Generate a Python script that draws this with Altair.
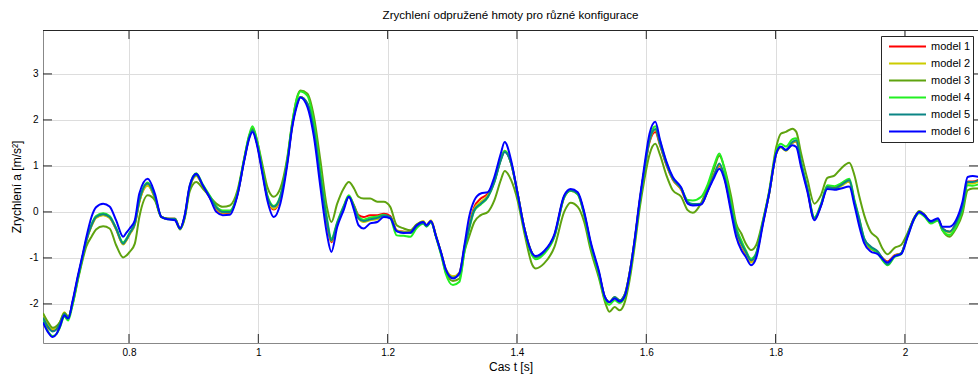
import altair as alt
import pandas as pd

# Time axis of the simulation [s]
time_s = [
    0.667, 0.675, 0.682, 0.688, 0.693, 0.700, 0.706, 0.713, 0.721, 0.729,
    0.734, 0.742, 0.749, 0.760, 0.770, 0.780, 0.791, 0.796, 0.801, 0.809,
    0.816, 0.829, 0.840, 0.850, 0.860, 0.871, 0.879, 0.886, 0.894, 0.904,
    0.914, 0.925, 0.935, 0.945, 0.956, 0.968, 0.978, 0.986, 0.991, 0.998,
    1.006, 1.014, 1.024, 1.034, 1.045, 1.052, 1.060, 1.065, 1.076, 1.086,
    1.096, 1.106, 1.113, 1.122, 1.132, 1.140, 1.148, 1.155, 1.163, 1.173,
    1.184, 1.194, 1.204, 1.214, 1.225, 1.235, 1.245, 1.255, 1.260, 1.267,
    1.275, 1.283, 1.290, 1.301, 1.311, 1.319, 1.326, 1.334, 1.344, 1.355,
    1.365, 1.375, 1.381, 1.391, 1.401, 1.411, 1.424, 1.429, 1.442, 1.458,
    1.473, 1.483, 1.494, 1.504, 1.514, 1.527, 1.536, 1.543, 1.551, 1.559,
    1.567, 1.574, 1.582, 1.590, 1.597, 1.605, 1.614, 1.621, 1.631, 1.641,
    1.654, 1.664, 1.672, 1.685, 1.695, 1.705, 1.713, 1.721, 1.731, 1.739,
    1.747, 1.754, 1.762, 1.770, 1.780, 1.790, 1.801, 1.808, 1.816, 1.826,
    1.832, 1.839, 1.849, 1.860, 1.870, 1.880, 1.891, 1.901, 1.914, 1.922,
    1.929, 1.937, 1.947, 1.958, 1.965, 1.973, 1.984, 1.994, 2.004, 2.014,
    2.022, 2.030, 2.040, 2.051, 2.058, 2.069, 2.079, 2.089, 2.097, 2.105,
    2.114,
]

# Sprung-mass acceleration [m/s^2] for each configuration
model_1 = [
    -2.32, -2.52, -2.58, -2.55, -2.43, -2.22, -2.30, -1.95, -1.42, -0.92,
    -0.62, -0.30, -0.12, -0.06, -0.12, -0.37, -0.70, -0.61, -0.48, -0.27,
    0.22, 0.58, 0.31, -0.11, -0.15, -0.15, -0.36, -0.11, 0.54, 0.79,
    0.57, 0.31, 0.06, -0.03, -0.02, 0.40, 1.12, 1.63, 1.78, 1.49,
    0.90, 0.31, 0.05, 0.30, 1.10, 1.84, 2.36, 2.50, 2.34, 1.74,
    0.72, -0.24, -0.66, -0.27, 0.10, 0.33, 0.14, -0.07, -0.11, -0.07,
    -0.07, -0.04, -0.09, -0.40, -0.43, -0.44, -0.29, -0.22, -0.29, -0.20,
    -0.54, -0.91, -1.26, -1.41, -1.33, -0.76, -0.28, 0.11, 0.29, 0.40,
    0.68, 1.14, 1.32, 1.05, 0.40, -0.33, -0.92, -0.99, -0.88, -0.52,
    0.32, 0.46, 0.39, -0.05, -0.70, -1.35, -1.86, -1.97, -1.86, -1.93,
    -1.79, -1.35, -0.63, 0.24, 0.90, 1.52, 1.74, 1.46, 1.02, 0.70,
    0.48, 0.20, 0.16, 0.18, 0.47, 0.82, 1.00, 0.74, 0.08, -0.45,
    -0.74, -0.92, -1.08, -0.93, -0.26, 0.40, 1.27, 1.41, 1.34, 1.50,
    1.53, 1.06, 0.49, -0.16, 0.14, 0.54, 0.52, 0.59, 0.66, 0.21,
    -0.18, -0.62, -0.80, -0.88, -1.00, -1.08, -0.94, -0.90, -0.51, -0.14,
    0.00, -0.07, -0.22, -0.16, -0.36, -0.43, -0.25, 0.12, 0.66, 0.66,
    0.70,
]
model_2 = [
    -2.22, -2.45, -2.55, -2.50, -2.40, -2.18, -2.28, -1.97, -1.44, -0.95,
    -0.64, -0.31, -0.13, -0.07, -0.13, -0.38, -0.71, -0.62, -0.49, -0.28,
    0.21, 0.57, 0.30, -0.11, -0.15, -0.15, -0.36, -0.12, 0.52, 0.78,
    0.57, 0.32, 0.08, -0.02, -0.01, 0.40, 1.12, 1.63, 1.78, 1.49,
    0.91, 0.32, 0.07, 0.31, 1.11, 1.84, 2.36, 2.50, 2.35, 1.76,
    0.74, -0.20, -0.64, -0.26, 0.10, 0.33, 0.10, -0.14, -0.22, -0.18,
    -0.16, -0.10, -0.12, -0.40, -0.43, -0.43, -0.28, -0.20, -0.28, -0.18,
    -0.52, -0.90, -1.24, -1.40, -1.32, -0.75, -0.30, 0.07, 0.22, 0.36,
    0.67, 1.15, 1.33, 1.06, 0.40, -0.33, -0.91, -0.98, -0.87, -0.51,
    0.33, 0.47, 0.40, -0.04, -0.69, -1.34, -1.85, -1.96, -1.85, -1.92,
    -1.78, -1.34, -0.62, 0.25, 0.91, 1.54, 1.78, 1.48, 1.04, 0.71,
    0.49, 0.20, 0.16, 0.17, 0.46, 0.80, 1.02, 0.75, 0.09, -0.42,
    -0.72, -0.90, -1.10, -0.94, -0.27, 0.39, 1.26, 1.40, 1.33, 1.50,
    1.54, 1.07, 0.50, -0.16, 0.13, 0.52, 0.50, 0.56, 0.66, 0.20,
    -0.18, -0.62, -0.79, -0.88, -1.00, -1.10, -0.95, -0.90, -0.51, -0.14,
    0.00, -0.07, -0.22, -0.16, -0.36, -0.45, -0.27, 0.09, 0.62, 0.62,
    0.66,
]
model_3 = [
    -2.20, -2.40, -2.52, -2.48, -2.40, -2.20, -2.28, -2.00, -1.48, -1.00,
    -0.75, -0.54, -0.38, -0.31, -0.36, -0.72, -0.99, -0.95, -0.87, -0.69,
    -0.11, 0.36, 0.25, -0.11, -0.15, -0.17, -0.38, -0.15, 0.45, 0.65,
    0.51, 0.33, 0.18, 0.11, 0.14, 0.48, 1.15, 1.66, 1.82, 1.55,
    1.05, 0.54, 0.33, 0.51, 1.20, 1.90, 2.50, 2.64, 2.57, 2.07,
    1.12, 0.11, -0.22, 0.18, 0.51, 0.65, 0.51, 0.33, 0.29, 0.29,
    0.22, 0.22, 0.11, -0.29, -0.36, -0.40, -0.27, -0.22, -0.30, -0.22,
    -0.54, -0.93, -1.32, -1.50, -1.45, -0.85, -0.54, -0.22, -0.07, 0.00,
    0.25, 0.69, 0.89, 0.69, 0.25, -0.43, -1.16, -1.23, -1.12, -0.76,
    0.00, 0.20, 0.11, -0.22, -0.83, -1.45, -1.95, -2.17, -2.07, -2.14,
    -1.95, -1.50, -0.75, 0.10, 0.70, 1.25, 1.48, 1.25, 0.80, 0.47,
    0.33, 0.04, -0.02, 0.20, 0.55, 0.95, 1.22, 0.95, 0.35, -0.25,
    -0.47, -0.69, -0.83, -0.72, -0.20, 0.45, 1.41, 1.70, 1.74, 1.81,
    1.74, 1.30, 0.72, 0.18, 0.36, 0.74, 0.79, 0.94, 1.07, 0.79,
    0.36, -0.07, -0.43, -0.58, -0.79, -0.92, -0.78, -0.72, -0.46, -0.14,
    0.02, -0.05, -0.22, -0.18, -0.40, -0.54, -0.36, -0.04, 0.47, 0.51,
    0.51,
]
model_4 = [
    -2.35, -2.60, -2.70, -2.65, -2.52, -2.28, -2.36, -2.00, -1.45, -0.92,
    -0.60, -0.27, -0.09, -0.03, -0.09, -0.35, -0.66, -0.58, -0.45, -0.24,
    0.26, 0.64, 0.34, -0.11, -0.16, -0.16, -0.37, -0.10, 0.57, 0.84,
    0.60, 0.35, 0.12, 0.03, 0.03, 0.42, 1.15, 1.68, 1.86, 1.56,
    0.95, 0.36, 0.13, 0.35, 1.15, 1.90, 2.48, 2.62, 2.52, 1.92,
    0.88, -0.12, -0.58, -0.22, 0.13, 0.36, 0.13, -0.10, -0.17, -0.12,
    -0.10, -0.06, -0.13, -0.51, -0.52, -0.54, -0.35, -0.26, -0.32, -0.22,
    -0.56, -0.95, -1.35, -1.59, -1.52, -0.85, -0.38, 0.02, 0.16, 0.32,
    0.64, 1.14, 1.33, 1.06, 0.38, -0.36, -0.96, -1.03, -0.91, -0.54,
    0.31, 0.46, 0.38, -0.07, -0.73, -1.38, -1.90, -2.02, -1.92, -1.98,
    -1.84, -1.40, -0.66, 0.22, 0.92, 1.60, 1.86, 1.55, 1.08, 0.74,
    0.52, 0.26, 0.25, 0.33, 0.60, 1.02, 1.27, 0.92, 0.20, -0.33,
    -0.62, -0.84, -1.02, -0.89, -0.23, 0.43, 1.32, 1.48, 1.42, 1.58,
    1.60, 1.12, 0.53, -0.12, 0.17, 0.58, 0.56, 0.62, 0.72, 0.26,
    -0.12, -0.58, -0.78, -0.90, -1.05, -1.16, -0.98, -0.92, -0.53, -0.17,
    -0.03, -0.10, -0.25, -0.19, -0.40, -0.50, -0.32, 0.05, 0.58, 0.57,
    0.60,
]
model_5 = [
    -2.30, -2.50, -2.60, -2.55, -2.43, -2.22, -2.30, -1.95, -1.42, -0.92,
    -0.62, -0.29, -0.11, -0.05, -0.11, -0.36, -0.69, -0.60, -0.47, -0.25,
    0.25, 0.62, 0.33, -0.11, -0.15, -0.15, -0.36, -0.11, 0.54, 0.80,
    0.58, 0.33, 0.10, 0.00, 0.00, 0.40, 1.12, 1.63, 1.78, 1.49,
    0.91, 0.33, 0.11, 0.33, 1.12, 1.85, 2.36, 2.50, 2.36, 1.78,
    0.76, -0.18, -0.62, -0.25, 0.11, 0.33, 0.11, -0.14, -0.20, -0.16,
    -0.13, -0.08, -0.11, -0.42, -0.45, -0.46, -0.31, -0.24, -0.31, -0.22,
    -0.54, -0.91, -1.27, -1.43, -1.36, -0.78, -0.35, 0.04, 0.18, 0.33,
    0.65, 1.12, 1.30, 1.05, 0.40, -0.33, -0.91, -0.98, -0.87, -0.51,
    0.33, 0.47, 0.40, -0.04, -0.69, -1.34, -1.85, -1.96, -1.85, -1.92,
    -1.78, -1.34, -0.62, 0.25, 0.91, 1.55, 1.80, 1.49, 1.05, 0.72,
    0.51, 0.22, 0.17, 0.18, 0.47, 0.80, 1.05, 0.76, 0.11, -0.40,
    -0.69, -0.87, -1.05, -0.91, -0.25, 0.40, 1.27, 1.41, 1.34, 1.52,
    1.56, 1.09, 0.51, -0.14, 0.14, 0.54, 0.51, 0.58, 0.69, 0.22,
    -0.14, -0.58, -0.75, -0.86, -1.00, -1.14, -0.96, -0.90, -0.51, -0.14,
    0.00, -0.07, -0.22, -0.16, -0.36, -0.43, -0.25, 0.11, 0.65, 0.65,
    0.69,
]
model_6 = [
    -2.40, -2.62, -2.72, -2.65, -2.50, -2.25, -2.32, -1.92, -1.38, -0.88,
    -0.55, -0.11, 0.10, 0.18, 0.12, -0.18, -0.54, -0.45, -0.36, -0.18,
    0.40, 0.72, 0.40, -0.11, -0.16, -0.18, -0.36, -0.08, 0.58, 0.83,
    0.58, 0.30, 0.00, -0.07, -0.06, 0.38, 1.10, 1.60, 1.74, 1.45,
    0.85, 0.25, -0.11, 0.18, 1.05, 1.80, 2.32, 2.49, 2.28, 1.63,
    0.54, -0.47, -0.87, -0.33, 0.04, 0.33, 0.04, -0.29, -0.36, -0.25,
    -0.22, -0.11, -0.14, -0.42, -0.46, -0.45, -0.29, -0.22, -0.29, -0.20,
    -0.54, -0.90, -1.25, -1.45, -1.33, -0.70, -0.11, 0.25, 0.40, 0.43,
    0.76, 1.27, 1.52, 1.12, 0.40, -0.33, -0.91, -0.96, -0.85, -0.48,
    0.36, 0.50, 0.43, 0.00, -0.65, -1.30, -1.85, -1.96, -1.88, -1.95,
    -1.82, -1.36, -0.60, 0.30, 1.00, 1.70, 1.96, 1.58, 1.10, 0.76,
    0.53, 0.18, 0.14, 0.16, 0.45, 0.75, 0.94, 0.70, 0.00, -0.54,
    -0.83, -0.98, -1.16, -1.00, -0.30, 0.40, 1.27, 1.42, 1.35, 1.45,
    1.41, 1.00, 0.45, -0.18, 0.12, 0.50, 0.48, 0.51, 0.55, 0.14,
    -0.29, -0.68, -0.86, -0.92, -1.02, -1.10, -0.96, -0.92, -0.55, -0.16,
    0.00, -0.07, -0.20, -0.14, -0.32, -0.32, -0.18, 0.22, 0.76, 0.78,
    0.76,
]

models = ["model 1", "model 2", "model 3", "model 4", "model 5", "model 6"]
colors = ["#ff0000", "#cccc00", "#5fa30f", "#22f022", "#0b8585", "#0000ff"]
series = [model_1, model_2, model_3, model_4, model_5, model_6]

x_ticks = [0.8, 1.0, 1.2, 1.4, 1.6, 1.8, 2.0]
y_ticks = [-2, -1, 0, 1, 2, 3]

W, H = 935, 313
FONT = "Liberation Sans"
FRAME = "#262626"

rows = []
for name, values in zip(models, series):
    for t, a in zip(time_s, values):
        rows.append({"t": t, "a": a, "model": name})
df = pd.DataFrame(rows)

x_scale = alt.Scale(domain=[0.667, 2.113], nice=False, zero=False)
y_scale = alt.Scale(domain=[-2.85, 3.955], nice=False, zero=False)

x_axis = alt.Axis(
    values=x_ticks, labelExpr="'' + datum.value", title="Cas t [s]",
    grid=True, ticks=False, tickSize=0, labelPadding=4, titlePadding=4,
    titleFontWeight="normal", titleFontSize=12,
)
y_axis = alt.Axis(
    values=y_ticks, labelExpr="'' + datum.value", title="Zrychlení a [m/s²]",
    grid=True, ticks=False, tickSize=0, labelPadding=5,
    titleFontWeight="normal", titleFontSize=12,
    titleX=-27, titleY=H / 2, titleAlign="center", titleBaseline="middle", titleAngle=-90,
)
X = alt.X("t:Q", scale=x_scale, axis=x_axis)
Y = alt.Y("a:Q", scale=y_scale, axis=y_axis)

lines = alt.Chart(df).mark_line(strokeWidth=2, interpolate="monotone", clip=True).encode(
    x=X,
    y=Y,
    color=alt.Color(
        "model:N",
        scale=alt.Scale(domain=models, range=colors),
        legend=alt.Legend(
            title=None, orient="none", legendX=838, legendY=6,
            symbolType="M-2,0H2", symbolSize=342, symbolStrokeWidth=2,
            symbolOffset=14, labelOffset=13,
            labelExpr="datum.label + '\u00a0\u00a0'",
            labelFont=FONT, labelFontSize=11, labelColor="#000",
            strokeColor=FRAME, fillColor="white", padding=2,
            clipHeight=17, rowPadding=0,
        ),
    ),
)

# inward tick marks on all four sides, as in a boxed axes frame
xt = pd.DataFrame({"t": x_ticks})
yt = pd.DataFrame({"a": y_ticks})
tick_style = dict(color=FRAME, strokeWidth=1)
bottom_ticks = alt.Chart(xt).mark_rule(**tick_style).encode(x=X, y=alt.value(H - 9), y2=alt.value(H))
top_ticks = alt.Chart(xt).mark_rule(**tick_style).encode(x=X, y=alt.value(0), y2=alt.value(9))
left_ticks = alt.Chart(yt).mark_rule(**tick_style).encode(y=Y, x=alt.value(0), x2=alt.value(9))
right_ticks = alt.Chart(yt).mark_rule(**tick_style).encode(y=Y, x=alt.value(W - 9), x2=alt.value(W))
top_edge = alt.Chart(pd.DataFrame({"a": [0]})).mark_rule(color=FRAME, strokeWidth=1).encode(y=alt.value(0.5))

chart = (
    alt.layer(lines, bottom_ticks, top_ticks, left_ticks, right_ticks, top_edge)
    .properties(
        width=W,
        height=H,
        title=alt.TitleParams(
            "Zrychlení odpružené hmoty pro různé konfigurace",
            anchor="middle", font=FONT, fontSize=11.6, fontWeight="normal",
            color="#000", offset=-3, baseline="bottom",
        ),
        autosize=alt.AutoSizeParams(type="none"),
        padding={"left": 43, "top": 30, "right": 0, "bottom": 33},
    )
    .configure_view(stroke=None)
    .configure_axis(
        labelFont=FONT, labelFontSize=11, labelColor="#000",
        titleFont=FONT, titleColor="#000",
        domainColor=FRAME, domainWidth=1,
        gridColor="#000", gridOpacity=0.6, gridDash=[1, 3], gridWidth=1,
    )
    .configure(background="white")
)

chart.save("out.html", embed_options={"renderer": "svg", "actions": False})
